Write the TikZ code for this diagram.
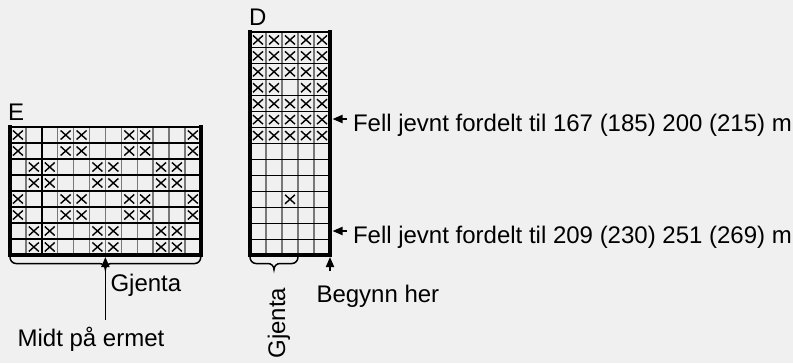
\documentclass[tikz,border=0pt]{standalone}
\usepackage{fontspec}
\setmainfont{Liberation Sans}
\usetikzlibrary{arrows.meta}
\definecolor{bgc}{RGB}{240,240,240}
\definecolor{gridgray}{RGB}{120,120,120}
\tikzset{
  lbl/.style={font=\fontsize{24bp}{28bp}\selectfont, inner sep=0pt, outer sep=0pt},
  xmark/.style={line width=1.4bp, black},
  hline/.style={line width=1.1bp, black},
  vline/.style={line width=1.4bp, gridgray},
  border/.style={line width=3.6bp, black, line cap=rect},
  topline/.style={line width=2.2bp, black},
  bracepath/.style={line width=1.5bp, black},
  pointer/.style={line width=1.8bp, black, -{Triangle[length=10bp,width=8bp]}},
}
\newcommand\mkX[2]{\draw[xmark] ({#1-5},{#2-4.5}) -- ({#1+5},{#2+4.5}) ({#1-5},{#2+4.5}) -- ({#1+5},{#2-4.5});}
\begin{document}
\begin{tikzpicture}[x=1bp,y=-1bp]
\fill[bgc] (0,0) rectangle (793,363);
\useasboundingbox (0,0) rectangle (793,363);
% ---------- Grid E: 12 cols x 8 rows ----------
\def\ex{10}\def\ey{127}\def\ew{15.9}\def\eh{16}
\foreach \c in {1,...,11} \draw[vline] ({\ex+\c*\ew},\ey) -- ({\ex+\c*\ew},{\ey+8*\eh});
\draw[line width=1.7bp, black] ({\ex+2*\ew},\ey) -- ({\ex+2*\ew},{\ey+8*\eh});
\foreach \r in {1,...,7} \draw[hline] (\ex,{\ey+\r*\eh}) -- ({\ex+12*\ew},{\ey+\r*\eh});
\foreach \r in {1,2,5,6} \foreach \c in {1,4,5,8,9,12} {\mkX{\ex+(\c-0.5)*\ew}{\ey+(\r-0.5)*\eh}}
\foreach \r in {3,4,7,8} \foreach \c in {2,3,6,7,10,11} {\mkX{\ex+(\c-0.5)*\ew}{\ey+(\r-0.5)*\eh}}
\draw[topline] (\ex,\ey) -- ({\ex+12*\ew},\ey);
\draw[border] (\ex,\ey) -- (\ex,{\ey+8*\eh}) -- ({\ex+12*\ew},{\ey+8*\eh}) -- ({\ex+12*\ew},\ey);
% ---------- Grid D: 5 cols x 14 rows ----------
\def\dx{250}\def\dy{32}\def\dw{16}\def\dh{15.93}
\foreach \c in {1,...,4} \draw[vline] ({\dx+\c*\dw},\dy) -- ({\dx+\c*\dw},{\dy+14*\dh});
\foreach \r in {1,...,13} \draw[hline] (\dx,{\dy+\r*\dh}) -- ({\dx+5*\dw},{\dy+\r*\dh});
\foreach \r in {1,2,3,5,6,7} \foreach \c in {1,...,5} {\mkX{\dx+(\c-0.5)*\dw}{\dy+(\r-0.5)*\dh}}
\foreach \c in {1,2,4,5} {\mkX{\dx+(\c-0.5)*\dw}{\dy+3.5*\dh}}
\mkX{\dx+2.5*\dw}{\dy+10.5*\dh}
\draw[topline] (\dx,\dy) -- ({\dx+5*\dw},\dy);
\draw[border] (\dx,\dy) -- (\dx,{\dy+14*\dh}) -- ({\dx+5*\dw},{\dy+14*\dh}) -- ({\dx+5*\dw},\dy);
% ---------- braces ----------
\draw[bracepath] (10,257) to[out=-90,in=180] (16,263.5) -- (99.4,263.5) to[out=0,in=90] (105.4,269.5)
  to[out=90,in=180] (111.4,263.5) -- (194.8,263.5) to[out=0,in=-90] (200.8,257);
\draw[bracepath] (250,257) to[out=-90,in=180] (256,263.5) -- (268,263.5) to[out=0,in=90] (274,269.5)
  to[out=90,in=180] (280,263.5) -- (292,263.5) to[out=0,in=-90] (298,257);
% ---------- labels ----------
\node[lbl, anchor=base west] (labE) at (8,120) {E};
\node[lbl, anchor=base west] (labD) at (249,25) {D};
\node[lbl, anchor=base west] (fell1) at (353,131) {Fell jevnt fordelt til 167 (185) 200 (215) m};
\node[lbl, anchor=base west] (fell2) at (353,243) {Fell jevnt fordelt til 209 (230) 251 (269) m};
\node[lbl, anchor=base west] (begynn) at (316.5,302.7) {Begynn her};
\node[lbl, anchor=base west] (gjentaE) at (110.5,291.7) {Gjenta};
\node[lbl, anchor=base west] (midt) at (17.6,346) {Midt på ermet};
\node[lbl, anchor=base, rotate=90] (gjentaD) at (285,323) {Gjenta};
% ---------- pointers ----------
\coordinate (eTail) at (105.4,320);
\coordinate (eTip) at (105.4,257);
\coordinate (dTail) at (330,271);
\coordinate (dTip) at (330,257);
\coordinate (f1Tail) at (347,119);
\coordinate (f1Tip) at (332.5,119);
\coordinate (f2Tail) at (347,231);
\coordinate (f2Tip) at (332.5,231);
\draw[pointer] (eTail) -- (eTip);
\draw[pointer] (dTail) -- (dTip);
\draw[pointer] (f1Tail) -- (f1Tip);
\draw[pointer] (f2Tail) -- (f2Tip);
\end{tikzpicture}
\end{document}
